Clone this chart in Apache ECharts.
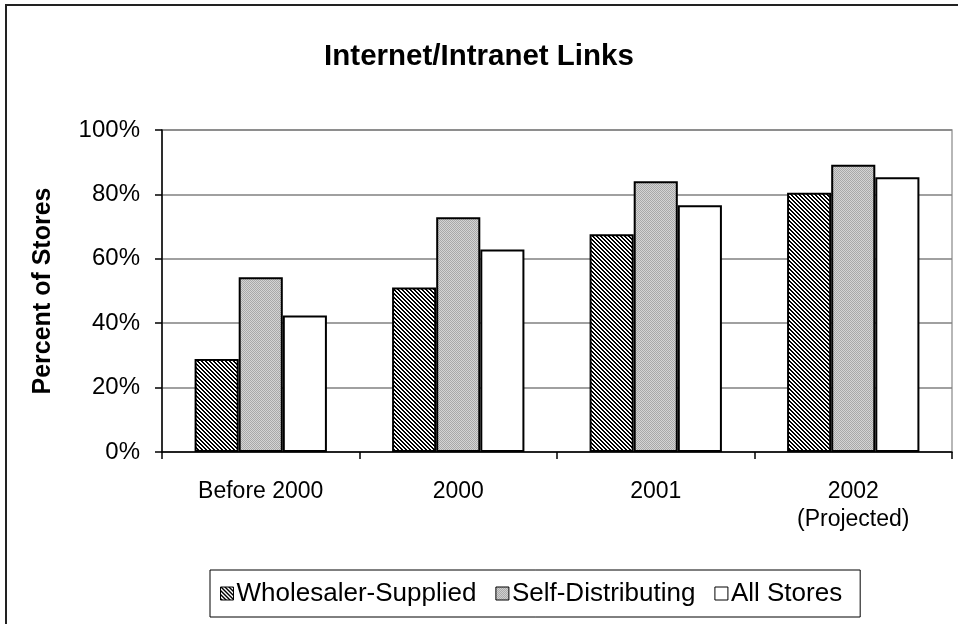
<!DOCTYPE html>
<html><head><meta charset="utf-8">
<script src="https://cdn.jsdelivr.net/npm/echarts@6/dist/echarts.min.js"></script>
<style>html,body{margin:0;padding:0;background:#fff}#c{width:958px;height:624px}</style>
</head><body><div id="c"></div>
<script>
const categories = ['Before 2000', '2000', '2001', '2002\n(Projected)'];
const wholesalerSupplied = [28.9, 51.1, 67.6, 80.5];
const selfDistributing = [54.3, 72.9, 84.1, 89.2];
const allStores = [42.4, 62.9, 76.6, 85.3];
const yTicks = [0, 20, 40, 60, 80, 100];

function hatch() {
  const c = document.createElement('canvas'); c.width = 4; c.height = 4;
  const g = c.getContext('2d'); g.fillStyle = '#fff'; g.fillRect(0,0,4,4);
  g.fillStyle = '#000';
  for (let i = 0; i < 4; i++) { g.fillRect(i, i, 1, 1); g.fillRect((i+1)%4, i, 1, 1); }
  return c;
}
function dots() {
  const c = document.createElement('canvas'); c.width = 2; c.height = 2;
  const g = c.getContext('2d'); g.fillStyle = '#d4d4d4'; g.fillRect(0,0,2,2);
  g.fillStyle = '#a8a8a8'; g.fillRect(0,0,1,1); g.fillRect(1,1,1,1);
  return c;
}
const F = 'Liberation Sans, Arial, sans-serif';
const chart = echarts.init(document.getElementById('c'), null, {renderer: 'canvas'});
const bs = {borderColor: '#000', borderWidth: 2};
chart.setOption({
  animation: false,
  backgroundColor: '#fff',
  title: {text: 'Internet/Intranet Links', left: 'center', top: 37,
    textStyle: {fontFamily: F, fontSize: 29.5, fontWeight: 'bold', color: '#000'}},
  graphic: [{type: 'rect', shape: {x: 6, y: 5, width: 1000, height: 1000}, silent: true,
    style: {fill: 'none', stroke: '#222', lineWidth: 2}}],
  grid: {left: 162, right: 6, top: 130, bottom: 172, show: true, borderColor: '#a0a0a0', borderWidth: 1.5, backgroundColor: 'transparent'},
  legend: {left: 210, top: 570, padding: [9, 18, 9, 10], itemGap: 19, itemWidth: 13, itemHeight: 13,
    borderColor: '#000', borderWidth: 1, icon: 'rect',
    itemStyle: {borderColor: '#000', borderWidth: 1},
    textStyle: {fontFamily: F, fontSize: 26, lineHeight: 29, color: '#000', padding: [0,0,0,-2]},
    data: ['Wholesaler-Supplied', 'Self-Distributing', 'All Stores']},
  xAxis: {type: 'category', data: categories,
    axisLine: {lineStyle: {color: '#000', width: 1.5}},
    axisTick: {show: true, length: 7, lineStyle: {color: '#000', width: 1.5}},
    axisLabel: {fontFamily: F, fontSize: 23, color: '#000', margin: 26, lineHeight: 28}},
  yAxis: {type: 'value', min: 0, max: 100, interval: 20,
    name: 'Percent of Stores', nameLocation: 'middle', nameGap: 106,
    nameTextStyle: {fontFamily: F, fontSize: 25, fontWeight: 'bold', color: '#000'},
    axisLine: {show: true, lineStyle: {color: '#000', width: 1.5}},
    axisTick: {show: true, length: 7, lineStyle: {color: '#000', width: 1.5}},
    splitLine: {lineStyle: {color: '#808080', width: 1.5}},
    axisLabel: {fontFamily: F, fontSize: 24, color: '#000', margin: 22,
      formatter: v => yTicks.includes(v) ? v + '%' : ''}},
  series: [
    {name: 'Wholesaler-Supplied', type: 'bar', data: wholesalerSupplied, barGap: '0%', barCategoryGap: '33%',
      itemStyle: Object.assign({color: {image: hatch(), repeat: 'repeat'}}, bs)},
    {name: 'Self-Distributing', type: 'bar', data: selfDistributing,
      itemStyle: Object.assign({color: {image: dots(), repeat: 'repeat'}}, bs)},
    {name: 'All Stores', type: 'bar', data: allStores,
      itemStyle: Object.assign({color: '#fff'}, bs)}
  ]
});
</script></body></html>
